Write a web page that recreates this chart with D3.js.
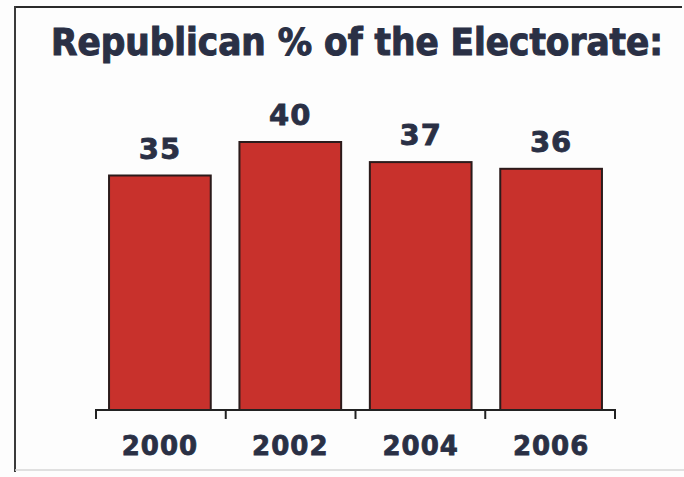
<!DOCTYPE html>
<html><head><meta charset="utf-8">
<script src="https://cdn.jsdelivr.net/npm/d3@7/dist/d3.min.js"></script>
<style>html,body{margin:0;padding:0;background:#fff;}svg{display:block;}</style>
</head><body>
<script>
const years = ["2000", "2002", "2004", "2006"];
const values = [35, 40, 37, 36];
const title = "Republican % of the Electorate:";

const W = 684, H = 477;
const svg = d3.select("body").append("svg").attr("width", W).attr("height", H);
svg.append("rect").attr("width", W).attr("height", H).attr("fill", "#fdfdfd");

// frame
svg.append("line").attr("x1", 15).attr("x2", 682).attr("y1", 7).attr("y2", 7).attr("stroke", "#2a2a2a").attr("stroke-width", 2);
svg.append("line").attr("x1", 15).attr("x2", 15).attr("y1", 6).attr("y2", 472).attr("stroke", "#3a3a3a").attr("stroke-width", 2);
svg.append("line").attr("x1", 15).attr("x2", 684).attr("y1", 470).attr("y2", 470).attr("stroke", "#d6d6d6").attr("stroke-width", 1.5);

const textColor = "#2a3045";
const font = "'DejaVu Sans', Verdana, sans-serif";

svg.append("text").attr("x", 51).attr("y", 55)
  .attr("font-family", "'DejaVu Sans Condensed', 'DejaVu Sans', sans-serif")
  .attr("font-weight", "bold").attr("font-size", 37)
  .attr("fill", textColor)
  .attr("stroke", textColor).attr("stroke-width", 1)
  .attr("textLength", 612).attr("lengthAdjust", "spacingAndGlyphs")
  .text(title);

const x = d3.scaleBand().domain(years).range([96, 615]).paddingInner(0.22).paddingOuter(0.1);
const y = d3.scaleLinear().domain([0, 40]).range([410, 142]);

svg.selectAll("rect.bar").data(values).enter().append("rect")
  .attr("class", "bar")
  .attr("x", (d, i) => x(years[i]))
  .attr("width", x.bandwidth())
  .attr("y", d => y(d))
  .attr("height", d => y(0) - y(d))
  .attr("fill", "#c8312c")
  .attr("stroke", "#2b1b1b").attr("stroke-width", 2);

svg.selectAll("text.val").data(values).enter().append("text")
  .attr("class", "val")
  .attr("x", (d, i) => x(years[i]) + x.bandwidth() / 2)
  .attr("y", d => y(d) - 17)
  .attr("text-anchor", "middle")
  .attr("font-family", font).attr("font-weight", "bold").attr("font-size", 29)
  .attr("letter-spacing", 1)
  .attr("fill", textColor)
  .attr("stroke", textColor).attr("stroke-width", 0.8)
  .text(d => d);

// axis
const step = (615 - 96) / years.length;
const bounds = d3.range(years.length + 1).map(i => 96 + i * step);
const axisG = svg.append("g").attr("transform", "translate(0,410)");
axisG.append("line").attr("x1", 96).attr("x2", 615).attr("y1", 0).attr("y2", 0).attr("stroke", "#222").attr("stroke-width", 2);
axisG.selectAll("line.tick").data(bounds).enter().append("line").attr("class", "tick")
  .attr("x1", d => d).attr("x2", d => d).attr("y1", -1).attr("y2", 9)
  .attr("stroke", "#222").attr("stroke-width", 2);

svg.selectAll("text.yr").data(years).enter().append("text")
  .attr("class", "yr")
  .attr("x", d => x(d) + x.bandwidth() / 2)
  .attr("y", 455)
  .attr("text-anchor", "middle")
  .attr("font-family", font).attr("font-weight", "bold").attr("font-size", 26)
  .attr("letter-spacing", 1)
  .attr("fill", textColor)
  .attr("stroke", textColor).attr("stroke-width", 0.8)
  .text(d => d);
</script>
</body></html>
